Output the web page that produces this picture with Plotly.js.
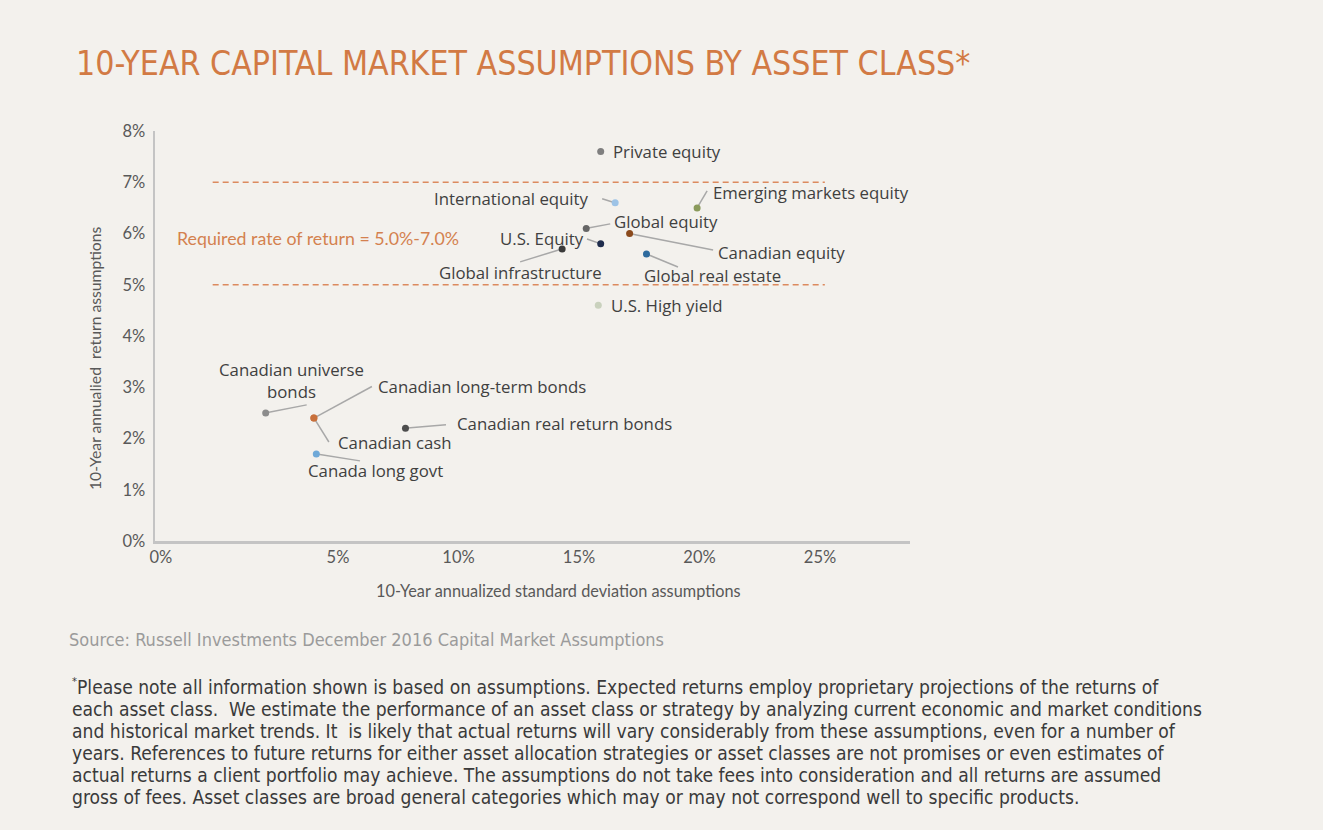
<!DOCTYPE html>
<html>
<head>
<meta charset="utf-8">
<script src="https://cdn.plot.ly/plotly-3.0.1.min.js"></script>
<style>
  html, body { margin: 0; padding: 0; background: #f3f1ed; }
  #chart { width: 1323px; height: 830px; }
</style>
</head>
<body>
<div id="chart"></div>
<script>
// ---------------- DATA ----------------
const categories = [
  "Private equity", "International equity", "Emerging markets equity", "Global equity",
  "Canadian equity", "U.S. Equity", "Global infrastructure", "Global real estate",
  "U.S. High yield", "Canadian universe bonds", "Canadian cash", "Canadian long-term bonds",
  "Canada long govt", "Canadian real return bonds"
];
// 10-year annualized standard deviation assumptions (%)
const stdDev  = [15.9, 16.5, 19.9, 15.3, 17.1, 15.9, 14.3, 17.8, 15.8, 2.0, 4.0, 4.0, 4.1, 7.8];
// 10-year annualized return assumptions (%)
const returns = [7.6, 6.6, 6.5, 6.1, 6.0, 5.8, 5.7, 5.6, 4.6, 2.5, 2.4, 2.4, 1.7, 2.2];
const pointColors = [
  "#7f7f7f", "#9dc3e6", "#8a9a5b", "#666666", "#8b4a1c", "#1f2d4d", "#3a3a3a", "#2e6b9e",
  "#c9d1bd", "#8c8c8c", "#c8703b", "#c8703b", "#6fa9d8", "#4d4d4d"
];
const requiredRange = [5.0, 7.0];
const xTickLabels = ["0%", "5%", "10%", "15%", "20%", "25%"];
const yTickValues = [0, 1, 2, 3, 4, 5, 6, 7, 8];
const yTickLabels = ["0%", "1%", "2%", "3%", "4%", "5%", "6%", "7%", "8%"];

const titleText = "10-YEAR CAPITAL MARKET ASSUMPTIONS BY ASSET CLASS*";
const requiredText = "Required rate of return = 5.0%-7.0%";
const xTitle = "10-Year annualized standard deviation assumptions";
const yTitle = "10-Year annualied  return assumptions";
const sourceText = "Source: Russell Investments December 2016 Capital Market Assumptions";
const footnoteMark = "*";
const footnoteLines = [
  "Please note all information shown is based on assumptions. Expected returns employ proprietary projections of the returns of",
  "each asset class.  We estimate the performance of an asset class or strategy by analyzing current economic and market conditions",
  "and historical market trends. It  is likely that actual returns will vary considerably from these assumptions, even for a number of",
  "years. References to future returns for either asset allocation strategies or asset classes are not promises or even estimates of",
  "actual returns a client portfolio may achieve. The assumptions do not take fees into consideration and all returns are assumed",
  "gross of fees. Asset classes are broad general categories which may or may not correspond well to specific products."
];

// ---------------- LABEL PLACEMENT (pixels, styling only) ----------------
// anchor: text box anchor; dx,dy: text offset from point (dy up); ax,ay: leader tail offset (ay down)
const labelPlacement = {
  "Private equity":            {anchor: "left",   dx: 10,  dy: 0},
  "International equity":      {anchor: "right",  dx: -24, dy: 4,    ax: -13, ay: -4},
  "Emerging markets equity":   {anchor: "left",   dx: 14,  dy: 15,   ax: 10,  ay: -17},
  "Global equity":             {anchor: "left",   dx: 26,  dy: 7,    ax: 24,  ay: -4.5},
  "Canadian equity":           {anchor: "left",   dx: 86,  dy: -18.5,ax: 83.5,ay: 16.5},
  "U.S. Equity":               {anchor: "right",  dx: -15, dy: 5.7,  ax: -13.7,ay: -4.7},
  "Global infrastructure":     {anchor: "center", dx: -42, dy: -24,  ax: -42, ay: 13},
  "Global real estate":        {anchor: "left",   dx: -4,  dy: -21.7,ax: 31.5,ay: 13},
  "U.S. High yield":           {anchor: "left",   dx: 11,  dy: 0},
  "Canadian universe bonds":   {anchor: "center", dx: 26,  dy: 32.4, ax: 41,  ay: -8, text: "Canadian universe<br>bonds"},
  "Canadian cash":             {anchor: "left",   dx: 22,  dy: -24.7,ax: 15,  ay: 24},
  "Canadian long-term bonds":  {anchor: "left",   dx: 62,  dy: 32,   ax: 58,  ay: -31.5},
  "Canada long govt":          {anchor: "center", dx: 58.7,dy: -17,  ax: 43.7,ay: 7},
  "Canadian real return bonds":{anchor: "left",   dx: 50,  dy: 4.3,  ax: 40.5,ay: -3.6}
};

// ---------------- LAYOUT GEOMETRY ----------------
const W = 1323, H = 830;
const plotL = 155, plotR = 910, plotT = 131, plotB = 541;
const xRange = [-2.593, 28.734];
const yRange = [0, 8];
const xTickVals = [-2.35, 5, 10, 15, 20, 25];
const px2paperX = px => (px - plotL) / (plotR - plotL);
const py2paperY = py => (plotB - py) / (plotB - plotT);
const kx = (xRange[1] - xRange[0]) / (plotR - plotL);   // data units per pixel (x)
const ky = (yRange[1] - yRange[0]) / (plotB - plotT);   // data units per pixel (y)

const labelFont = {family: "Open Sans, Noto Sans, sans-serif", size: 16.8, color: "#404040"};
const narrowFont = "Liberation Sans Narrow, DejaVu Sans Condensed, sans-serif";
const axisTitleFont = {family: "Lato, sans-serif", size: 16.3, color: "#595959"};
const leaderColor = "#a8a8a8";
const leaderStandoff = 2;

const annotations = [];
const shapes = [];

categories.forEach((name, i) => {
  const p = labelPlacement[name];
  if (!p) return;
  if (p.ax !== undefined) {
    // leader line from the point (with small standoff) to the label, offsets in pixels
    const len = Math.hypot(p.ax, p.ay);
    const sx = p.ax / len * leaderStandoff, sy = p.ay / len * leaderStandoff;
    shapes.push({
      type: "line", xref: "x", yref: "y", layer: "below",
      x0: stdDev[i] + sx * kx, y0: returns[i] - sy * ky,
      x1: stdDev[i] + p.ax * kx, y1: returns[i] - p.ay * ky,
      line: {color: leaderColor, width: 1.5}
    });
  }
  annotations.push({
    x: stdDev[i], y: returns[i], xref: "x", yref: "y",
    text: p.text || name, showarrow: false,
    xanchor: p.anchor, yanchor: "middle", align: "center",
    xshift: p.dx, yshift: p.dy, font: labelFont
  });
});

// required rate band
requiredRange.forEach(v => shapes.push({
  type: "line", xref: "x", yref: "y", x0: -0.2, x1: 25.2, y0: v, y1: v,
  line: {color: "#dc8a5e", width: 1.3, dash: "6px,4px"}
}));

annotations.push({
  xref: "paper", yref: "paper", x: px2paperX(175), y: py2paperY(238),
  xanchor: "left", yanchor: "middle", showarrow: false, text: requiredText,
  font: {family: "Lato, sans-serif", size: 17.8, color: "#d4814f"}
});

// axis titles
annotations.push({
  xref: "paper", yref: "paper", x: px2paperX(558), y: py2paperY(590),
  xanchor: "center", yanchor: "middle", showarrow: false, text: xTitle, font: axisTitleFont
});
annotations.push({
  xref: "paper", yref: "paper", x: px2paperX(95), y: py2paperY(359),
  xanchor: "center", yanchor: "middle", showarrow: false, text: yTitle, textangle: -90,
  font: {family: "Lato, sans-serif", size: 15.7, color: "#595959"}
});

annotations.push({
  xref: "paper", yref: "paper", x: px2paperX(67), y: py2paperY(639),
  xanchor: "left", yanchor: "middle", showarrow: false, text: sourceText,
  font: {family: narrowFont, size: 18, color: "#9b9b9b"}
});

// footnote marker (small raised asterisk) and footnote lines
annotations.push({
  xref: "paper", yref: "paper", x: px2paperX(70), y: py2paperY(681),
  xanchor: "left", yanchor: "middle", showarrow: false, text: footnoteMark,
  font: {family: narrowFont, size: 11, color: "#3a3a3a"}
});
footnoteLines.forEach((line, k) => {
  annotations.push({
    xref: "paper", yref: "paper", x: px2paperX(k === 0 ? 75 : 70), y: py2paperY(687 + 22 * k),
    xanchor: "left", yanchor: "middle", showarrow: false, text: line,
    font: {family: narrowFont, size: 19.1, color: "#3a3a3a"}
  });
});

const trace = {
  type: "scatter", mode: "markers",
  x: stdDev, y: returns, text: categories,
  marker: {color: pointColors, size: 7},
  hovertemplate: "%{text}<br>Std dev: %{x}%<br>Return: %{y}%<extra></extra>",
  showlegend: false
};

const tickFont = {family: "Lato, sans-serif", size: 16.5, color: "#595959"};

const layout = {
  width: W, height: H,
  paper_bgcolor: "#f3f1ed", plot_bgcolor: "#f3f1ed",
  margin: {l: plotL, r: W - plotR, t: plotT, b: H - plotB, pad: 0},
  title: {
    text: titleText, xref: "container", yref: "container",
    x: 76 / W, xanchor: "left", y: 1 - 63 / H, yanchor: "middle",
    font: {family: narrowFont, size: 33.6, color: "#d27a44"}
  },
  xaxis: {
    range: xRange, showgrid: false, zeroline: false,
    showline: true, linecolor: "#c4c4c4", linewidth: 2.5,
    tickvals: xTickVals, ticktext: xTickLabels, ticks: "",
    tickfont: tickFont, ticklabelstandoff: 0,
    fixedrange: true
  },
  yaxis: {
    range: yRange, showgrid: false, zeroline: false,
    showline: true, linecolor: "#c4c4c4", linewidth: 2.5,
    tickvals: yTickValues, ticktext: yTickLabels, ticks: "",
    tickfont: tickFont, ticklabelstandoff: 4,
    fixedrange: true
  },
  shapes: shapes,
  annotations: annotations
};

Plotly.newPlot("chart", [trace], layout, {displayModeBar: false, staticPlot: true});
</script>
</body>
</html>
